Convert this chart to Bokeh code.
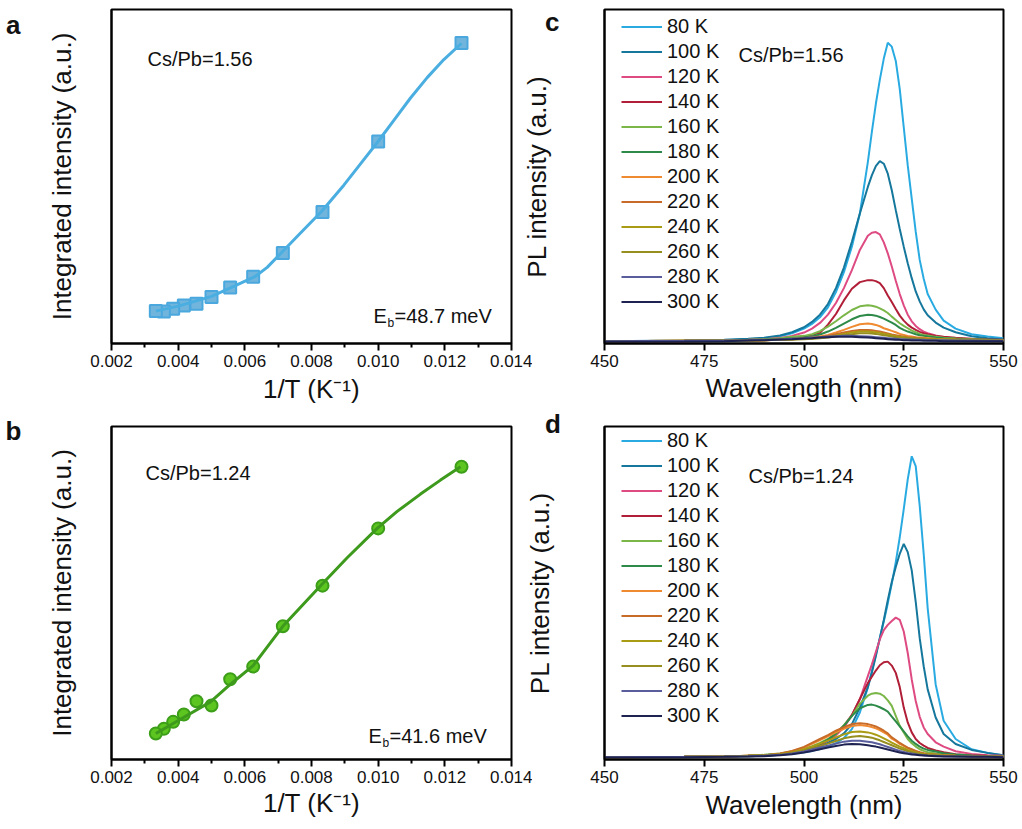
from bokeh.plotting import figure
from bokeh.models import (Range1d, FixedTicker, PrintfTickFormatter, Label, Legend, LegendItem,
                          LinearAxis, CustomJSTickFormatter, Div)
from bokeh.layouts import row, column
from bokeh.embed import file_html
from bokeh.resources import INLINE

FONT = "Liberation Sans"

# ---------------- panels a / b : integrated intensity vs 1/T ----------------
inv_T = [0.01250, 0.01000, 0.00833, 0.00714, 0.00625, 0.00556, 0.00500, 0.00455, 0.00417, 0.00385, 0.00357, 0.00333]
int_a = [0.900, 0.605, 0.394, 0.271, 0.200, 0.168, 0.139, 0.119, 0.114, 0.104, 0.096, 0.097]
int_b = [0.879, 0.694, 0.522, 0.400, 0.279, 0.241, 0.162, 0.175, 0.135, 0.113, 0.092, 0.078]

fit_a_x = [0.00333, 0.00400, 0.00500, 0.00560, 0.00630, 0.00667, 0.00709, 0.00767, 0.00830, 0.00897, 0.00947, 0.00999, 0.01047, 0.01097, 0.01147, 0.01197, 0.01250]
fit_a_y = [0.097, 0.112, 0.141, 0.168, 0.200, 0.228, 0.271, 0.331, 0.395, 0.474, 0.538, 0.604, 0.668, 0.735, 0.796, 0.850, 0.899]
fit_b_x = [0.00333, 0.00407, 0.00497, 0.00557, 0.00625, 0.00714, 0.00830, 0.00907, 0.00997, 0.01057, 0.01127, 0.01187, 0.01247]
fit_b_y = [0.078, 0.121, 0.173, 0.226, 0.282, 0.400, 0.525, 0.606, 0.694, 0.745, 0.797, 0.839, 0.879]

x_ticks_ab = [0.002, 0.004, 0.006, 0.008, 0.010, 0.012, 0.014]
x_minor_ab = [0.003, 0.005, 0.007, 0.009, 0.011, 0.013]

# ---------------- panels c / d : PL spectra ----------------
temps = ["80 K", "100 K", "120 K", "140 K", "160 K", "180 K", "200 K", "220 K", "240 K", "260 K", "280 K", "300 K"]
colors = ["#29abe2", "#15779c", "#de4a82", "#b01f37", "#7ab648", "#2d8a48",
          "#ef8a30", "#c86b28", "#a99b13", "#968e1e", "#5a5d9c", "#1f2352"]
wl_ticks = [450, 475, 500, 525, 550]

wl = [450, 470, 480, 486, 490, 494, 497, 500, 502, 504, 506, 508, 510, 512, 514, 516, 517, 518, 519,
      520, 521, 522, 523, 524, 525, 526, 527, 528, 529, 530, 531, 533, 535, 538, 542, 546, 550]

# Cs/Pb = 1.56
c_80 = [0.000, 0.001, 0.003, 0.006, 0.009, 0.015, 0.024, 0.038, 0.052, 0.072, 0.102, 0.148, 0.208, 0.285, 0.385, 0.540, 0.630, 0.715, 0.788,
        0.852, 0.900, 0.888, 0.845, 0.760, 0.645, 0.530, 0.430, 0.330, 0.245, 0.188, 0.142, 0.095, 0.062, 0.038, 0.021, 0.014, 0.009]
c_100 = [0.000, 0.002, 0.004, 0.007, 0.010, 0.017, 0.027, 0.042, 0.058, 0.080, 0.112, 0.160, 0.222, 0.300, 0.385, 0.465, 0.500, 0.528, 0.543,
         0.535, 0.505, 0.455, 0.395, 0.338, 0.285, 0.235, 0.190, 0.150, 0.120, 0.096, 0.078, 0.056, 0.041, 0.027, 0.015, 0.009, 0.005]
c_120 = [0.000, 0.001, 0.002, 0.004, 0.006, 0.010, 0.016, 0.026, 0.038, 0.055, 0.080, 0.115, 0.160, 0.214, 0.275, 0.318, 0.327, 0.329, 0.322,
         0.298, 0.265, 0.225, 0.182, 0.142, 0.108, 0.080, 0.060, 0.046, 0.036, 0.029, 0.024, 0.017, 0.012, 0.008, 0.005, 0.004, 0.003]
c_140 = [0.000, 0.000, 0.001, 0.002, 0.003, 0.005, 0.008, 0.013, 0.019, 0.025, 0.050, 0.082, 0.123, 0.158, 0.178, 0.184, 0.184, 0.181, 0.175,
         0.160, 0.138, 0.118, 0.097, 0.077, 0.062, 0.050, 0.041, 0.034, 0.028, 0.024, 0.021, 0.016, 0.013, 0.010, 0.007, 0.005, 0.004]
c_160 = [0.000, 0.001, 0.002, 0.004, 0.006, 0.009, 0.013, 0.016, 0.021, 0.030, 0.044, 0.060, 0.078, 0.094, 0.105, 0.108, 0.107, 0.104, 0.099,
         0.093, 0.085, 0.074, 0.064, 0.054, 0.046, 0.039, 0.032, 0.027, 0.022, 0.019, 0.017, 0.013, 0.010, 0.008, 0.006, 0.004, 0.003]
c_180 = [0.000, 0.001, 0.002, 0.003, 0.004, 0.006, 0.009, 0.011, 0.014, 0.020, 0.029, 0.040, 0.053, 0.066, 0.076, 0.080, 0.079, 0.077, 0.073,
         0.068, 0.062, 0.056, 0.049, 0.040, 0.034, 0.029, 0.025, 0.021, 0.018, 0.016, 0.014, 0.011, 0.009, 0.007, 0.005, 0.004, 0.003]
c_200 = [0.000, 0.001, 0.001, 0.002, 0.003, 0.005, 0.007, 0.009, 0.011, 0.014, 0.019, 0.026, 0.034, 0.043, 0.051, 0.053, 0.052, 0.049, 0.045,
         0.039, 0.035, 0.031, 0.027, 0.022, 0.019, 0.016, 0.014, 0.012, 0.011, 0.010, 0.009, 0.007, 0.006, 0.005, 0.004, 0.003, 0.003]
c_220 = [0.000, 0.001, 0.001, 0.002, 0.003, 0.004, 0.006, 0.008, 0.010, 0.012, 0.016, 0.021, 0.026, 0.031, 0.034, 0.034, 0.033, 0.031, 0.029,
         0.026, 0.023, 0.020, 0.018, 0.016, 0.014, 0.012, 0.011, 0.010, 0.009, 0.008, 0.007, 0.006, 0.005, 0.004, 0.004, 0.003, 0.003]
c_240 = [0.000, 0.001, 0.001, 0.002, 0.003, 0.004, 0.005, 0.007, 0.008, 0.010, 0.013, 0.017, 0.022, 0.026, 0.029, 0.029, 0.028, 0.027, 0.025,
         0.022, 0.020, 0.017, 0.015, 0.013, 0.012, 0.010, 0.009, 0.008, 0.007, 0.007, 0.006, 0.005, 0.005, 0.004, 0.003, 0.003, 0.002]
c_260 = [0.000, 0.001, 0.001, 0.002, 0.003, 0.004, 0.005, 0.006, 0.007, 0.009, 0.011, 0.014, 0.018, 0.021, 0.024, 0.024, 0.023, 0.022, 0.020,
         0.018, 0.016, 0.014, 0.012, 0.011, 0.010, 0.009, 0.008, 0.007, 0.006, 0.006, 0.005, 0.005, 0.004, 0.004, 0.003, 0.002, 0.002]
c_280 = [0.000, 0.001, 0.002, 0.003, 0.004, 0.005, 0.007, 0.009, 0.011, 0.012, 0.014, 0.015, 0.016, 0.016, 0.015, 0.014, 0.013, 0.012, 0.011,
         0.010, 0.009, 0.008, 0.007, 0.006, 0.006, 0.005, 0.005, 0.004, 0.004, 0.004, 0.003, 0.003, 0.003, 0.002, 0.002, 0.001, 0.001]
c_300 = [-0.002, -0.001, 0.000, 0.002, 0.003, 0.005, 0.006, 0.008, 0.009, 0.011, 0.012, 0.013, 0.013, 0.013, 0.012, 0.011, 0.010, 0.009, 0.008,
         0.007, 0.006, 0.005, 0.004, 0.004, 0.003, 0.003, 0.002, 0.002, 0.002, 0.001, 0.001, 0.001, 0.000, 0.000, 0.000, 0.000, 0.000]

# Cs/Pb = 1.24
d_80 = [0.000, 0.001, 0.002, 0.003, 0.004, 0.007, 0.010, 0.015, 0.019, 0.025, 0.032, 0.042, 0.058, 0.085, 0.135, 0.210, 0.260, 0.310, 0.360,
        0.410, 0.465, 0.525, 0.590, 0.665, 0.750, 0.840, 0.910, 0.880, 0.760, 0.615, 0.450, 0.220, 0.110, 0.055, 0.024, 0.013, 0.005]
d_100 = [0.000, 0.001, 0.002, 0.004, 0.006, 0.009, 0.013, 0.018, 0.023, 0.034, 0.044, 0.055, 0.072, 0.100, 0.150, 0.212, 0.255, 0.305, 0.360,
         0.415, 0.475, 0.530, 0.575, 0.615, 0.645, 0.620, 0.565, 0.470, 0.360, 0.275, 0.205, 0.120, 0.070, 0.040, 0.022, 0.013, 0.006]
d_120 = [0.000, 0.001, 0.002, 0.004, 0.006, 0.010, 0.015, 0.022, 0.029, 0.038, 0.050, 0.066, 0.090, 0.126, 0.175, 0.245, 0.280, 0.318, 0.356,
         0.384, 0.400, 0.412, 0.422, 0.415, 0.380, 0.315, 0.235, 0.170, 0.122, 0.090, 0.070, 0.045, 0.032, 0.018, 0.010, 0.006, 0.004]
d_140 = [0.000, 0.001, 0.002, 0.004, 0.006, 0.010, 0.015, 0.022, 0.029, 0.039, 0.052, 0.070, 0.095, 0.128, 0.176, 0.224, 0.243, 0.262, 0.278,
         0.287, 0.289, 0.277, 0.255, 0.212, 0.150, 0.105, 0.075, 0.055, 0.043, 0.035, 0.028, 0.020, 0.015, 0.009, 0.006, 0.004, 0.003]
d_160 = [0.000, 0.001, 0.002, 0.004, 0.007, 0.011, 0.017, 0.025, 0.033, 0.043, 0.055, 0.070, 0.097, 0.124, 0.162, 0.186, 0.192, 0.194, 0.192,
         0.185, 0.172, 0.155, 0.125, 0.095, 0.075, 0.055, 0.042, 0.032, 0.024, 0.019, 0.015, 0.011, 0.008, 0.006, 0.004, 0.003, 0.002]
d_180 = [0.000, 0.001, 0.002, 0.004, 0.006, 0.010, 0.015, 0.022, 0.030, 0.040, 0.053, 0.072, 0.095, 0.125, 0.148, 0.158, 0.159, 0.156, 0.151,
         0.145, 0.138, 0.123, 0.108, 0.093, 0.078, 0.063, 0.050, 0.040, 0.032, 0.026, 0.022, 0.017, 0.012, 0.008, 0.005, 0.003, 0.002]
d_200 = [0.000, 0.001, 0.002, 0.004, 0.005, 0.010, 0.018, 0.029, 0.040, 0.052, 0.063, 0.075, 0.086, 0.094, 0.097, 0.094, 0.091, 0.087, 0.082,
         0.075, 0.068, 0.056, 0.049, 0.040, 0.034, 0.027, 0.023, 0.018, 0.014, 0.011, 0.009, 0.007, 0.006, 0.004, 0.003, 0.002, 0.002]
d_220 = [0.000, 0.001, 0.002, 0.004, 0.005, 0.011, 0.019, 0.031, 0.043, 0.055, 0.067, 0.080, 0.091, 0.100, 0.103, 0.100, 0.097, 0.093, 0.087,
         0.080, 0.072, 0.060, 0.052, 0.043, 0.036, 0.029, 0.024, 0.019, 0.015, 0.012, 0.010, 0.008, 0.006, 0.004, 0.003, 0.002, 0.002]
d_240 = [0.000, 0.001, 0.002, 0.004, 0.005, 0.009, 0.015, 0.024, 0.032, 0.041, 0.050, 0.060, 0.069, 0.076, 0.078, 0.075, 0.072, 0.068, 0.063,
         0.057, 0.051, 0.044, 0.038, 0.032, 0.027, 0.022, 0.018, 0.015, 0.012, 0.010, 0.009, 0.007, 0.005, 0.004, 0.003, 0.002, 0.002]
d_260 = [0.000, 0.001, 0.002, 0.003, 0.004, 0.008, 0.013, 0.020, 0.027, 0.034, 0.041, 0.049, 0.057, 0.062, 0.064, 0.061, 0.059, 0.055, 0.051,
         0.046, 0.041, 0.036, 0.031, 0.026, 0.022, 0.018, 0.015, 0.012, 0.010, 0.008, 0.007, 0.005, 0.004, 0.003, 0.002, 0.002, 0.001]
d_280 = [0.000, 0.001, 0.002, 0.003, 0.004, 0.007, 0.011, 0.017, 0.023, 0.029, 0.035, 0.041, 0.047, 0.050, 0.050, 0.047, 0.045, 0.042, 0.039,
         0.035, 0.031, 0.027, 0.023, 0.019, 0.016, 0.013, 0.011, 0.009, 0.007, 0.006, 0.005, 0.004, 0.003, 0.002, 0.002, 0.001, 0.001]
d_300 = [-0.001, 0.000, 0.001, 0.002, 0.003, 0.006, 0.009, 0.014, 0.019, 0.024, 0.029, 0.034, 0.038, 0.040, 0.039, 0.036, 0.034, 0.032, 0.029,
         0.026, 0.023, 0.020, 0.017, 0.014, 0.012, 0.010, 0.008, 0.007, 0.006, 0.005, 0.004, 0.003, 0.002, 0.002, 0.001, 0.001, 0.000]

spectra_c = [c_80, c_100, c_120, c_140, c_160, c_180, c_200, c_220, c_240, c_260, c_280, c_300]
spectra_d = [d_80, d_100, d_120, d_140, d_160, d_180, d_200, d_220, d_240, d_260, d_280, d_300]


def letter_formatter(letter):
    return CustomJSTickFormatter(code="return '%s';" % letter)


def make_fig(w, h, bl, br, bt, bb, xr, yr, xlabel, ylabel, ylab_standoff, xlab_standoff):
    p = figure(width=w, height=h, x_range=xr, y_range=yr, output_backend="svg", toolbar_location=None,
               min_border_left=bl, min_border_right=br, min_border_top=bt, min_border_bottom=bb)
    p.grid.visible = False
    p.background_fill_color = "white"
    p.border_fill_color = "white"
    p.outline_line_color = "black"
    p.outline_line_width = 2
    p.outline_line_alpha = 1.0
    xa, ya = p.xaxis[0], p.yaxis[0]
    for ax in (xa, ya):
        ax.axis_line_width = 2
        ax.axis_line_color = "black"
        ax.major_tick_line_width = 2
        ax.minor_tick_line_width = 2
        ax.major_tick_in = 0
        ax.minor_tick_in = 0
        ax.axis_label_text_font = FONT
        ax.axis_label_text_font_size = "26px"
        ax.axis_label_text_font_style = "normal"
        ax.axis_label_text_color = "#111111"
        ax.major_label_text_font = FONT
        ax.major_label_text_font_size = "17px"
        ax.major_label_text_color = "#111111"
    xa.axis_label = xlabel
    xa.major_tick_out = 7
    xa.minor_tick_out = 4
    xa.major_label_standoff = 4
    xa.axis_label_standoff = xlab_standoff
    ya.axis_label = ylabel
    ya.ticker = FixedTicker(ticks=[], minor_ticks=[])
    ya.major_tick_out = 0
    ya.minor_tick_out = 0
    ya.major_label_standoff = 0
    ya.major_label_text_font_size = "0px"
    ya.axis_label_standoff = ylab_standoff
    return p


def add_text(p, x, y, txt, size="20px"):
    p.add_layout(Label(x=x, y=y, x_units="screen", y_units="screen", text=txt,
                       text_font=FONT, text_font_size=size,
                       text_baseline="alphabetic", text_align="left", text_color="#111111"))


def arrhenius_panel(w, h, bl, br, bt, bb, yvals, fx, fy, kind, msize, mcol, mfill, lcol, label, eb,
                    lab_pos, eb_pos, xls, letter, letter_v, letter_standoff):
    p = make_fig(w, h, bl, br, bt, bb, Range1d(0.002, 0.014), Range1d(0.0, 1.0),
                 "1/T (K\u207b\u00b9)", "Integrated intensity (a.u.)", 35, xls)
    p.xaxis[0].ticker = FixedTicker(ticks=x_ticks_ab, minor_ticks=x_minor_ab)
    p.xaxis[0].formatter = PrintfTickFormatter(format="%.3f")
    p.scatter(inv_T, yvals, marker=kind, size=msize, fill_color=mfill, line_color=mcol, line_width=2)
    p.line(fx, fy, line_color=lcol, line_width=3)
    add_text(p, lab_pos[0], lab_pos[1], label)
    add_text(p, eb_pos[0], eb_pos[1], "E")
    add_text(p, eb_pos[0] + 14, eb_pos[1] - 7, "b", size="12px")
    add_text(p, eb_pos[0] + 21, eb_pos[1], eb)
    # panel letter as the single tick label of an outer, line-less axis
    lax = LinearAxis(ticker=FixedTicker(ticks=[letter_v], minor_ticks=[]), formatter=letter_formatter(letter),
                     axis_line_color=None, major_tick_out=0, major_tick_in=0, minor_tick_out=0, minor_tick_in=0,
                     major_label_standoff=letter_standoff, major_label_text_font=FONT,
                     major_label_text_font_size="26px", major_label_text_font_style="bold",
                     major_label_text_color="#111111")
    p.add_layout(lax, "left")
    return p


def spectra_panel(w, h, bl, br, bt, bb, spectra, label, lab_pos, leg_y, xls, letter, letter_v):
    if letter:
        p = make_fig(w, h, bl, br, bt, bb, Range1d(450, 550), Range1d(-0.007, 1.0),
                     "Wavelength (nm)", "PL intensity (a.u.)", -10, xls)
        ya = p.yaxis[0]
        ya.ticker = FixedTicker(ticks=[letter_v], minor_ticks=[])
        ya.formatter = letter_formatter(letter)
        ya.major_label_standoff = 45
        ya.major_label_text_font_size = "26px"
        ya.major_label_text_font_style = "bold"
    else:
        p = make_fig(w, h, bl, br, bt, bb, Range1d(450, 550), Range1d(-0.007, 1.0),
                     "Wavelength (nm)", "PL intensity (a.u.)", 50, xls)
    p.border_fill_alpha = 0.0
    p.xaxis[0].ticker = FixedTicker(ticks=wl_ticks, minor_ticks=[])
    rends = []
    for ys, col in zip(spectra, colors):
        rends.append(p.line(wl, ys, line_color=col, line_width=2))
    items = [LegendItem(label=t, renderers=[r]) for t, r in zip(temps, rends)]
    leg = Legend(items=items, location=(17, leg_y), label_text_font=FONT, label_text_font_size="20px",
                 label_text_color="#111111", glyph_width=41, glyph_height=25, label_height=25,
                 label_standoff=5, spacing=0, padding=0, margin=0,
                 background_fill_alpha=0, border_line_alpha=0)
    p.add_layout(leg)
    add_text(p, lab_pos[0], lab_pos[1], label)
    return p


pa = arrhenius_panel(532, 415, 111, 21, 9, 70, int_a, fit_a_x, fit_a_y, "square", 12, "#4aa8de", "#72b5dc", "#4aaee0",
                     "Cs/Pb=1.56", "=48.7 meV", (36, 285), (262, 28), 4, "a", 0.954, 23)
pb = arrhenius_panel(532, 414, 111, 21, 11, 67, int_b, fit_b_x, fit_b_y, "circle", 12, "#3c9e19", "#5cc51f", "#3d9a1c",
                     "Cs/Pb=1.24", "=41.6 meV", (34, 287), (257, 24), 2, "b", 0.987, 22)
# the spectra panels overlap the right border of the left panels by 15 px (transparent border)
pc = spectra_panel(505, 415, 87, 19, 9, 72, spectra_c, "Cs/Pb=1.56", (134, 289), 29, 3, "c", 0.962)
pd = spectra_panel(505, 414, 87, 19, 9, 70, spectra_d, "Cs/Pb=1.24", (144, 284), 31, 4, None, None)
pc.margin = (0, 0, 0, -15)
pd.margin = (0, 0, 0, -15)

# panel letter "d" sits above the top edge of its frame: an HTML text block placed over the layout
div_d = Div(text='<span style="font-family:\'Liberation Sans\'; font-size:26px; font-weight:bold; '
                 'line-height:30px; color:#111111;">d</span>',
            width=20, height=30, margin=(-6, 457, 0, -477))

layout = column(row(pa, pc), row(pb, pd, div_d))
open("out.html", "w").write(file_html(layout, INLINE))
